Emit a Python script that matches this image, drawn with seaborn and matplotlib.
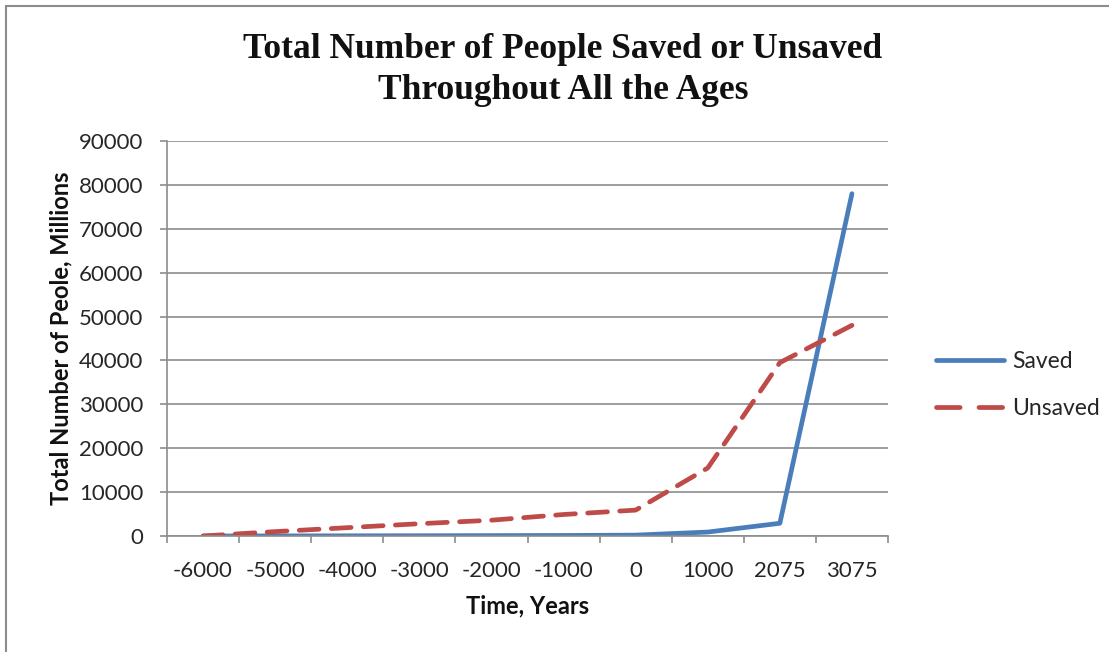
import matplotlib
matplotlib.use("Agg")
import matplotlib.pyplot as plt
from matplotlib.lines import Line2D
import numpy as np
import pandas as pd
import seaborn as sns

# Data (millions of people, cumulative)
years = ["-6000", "-5000", "-4000", "-3000", "-2000", "-1000", "0", "1000", "2075", "3075"]
saved = [0, 20, 40, 60, 90, 120, 200, 900, 2900, 78000]
unsaved = [0, 1000, 1900, 2800, 3600, 4900, 5900, 15500, 39500, 48000]

sns.set_theme(style="white")
plt.rcParams["font.family"] = ["Lato", "DejaVu Sans"]

pos = np.arange(len(years))
df = pd.DataFrame({
    "pos": np.concatenate([pos, pos]),
    "value": saved + unsaved,
    "series": ["Saved"] * len(years) + ["Unsaved"] * len(years),
})

fig = plt.figure(figsize=(11.09, 6.52), dpi=100)
ax = fig.add_axes([167 / 1109, 1 - 536 / 652, (888 - 167) / 1109, (536 - 141) / 652])

blue = "#4A7EBB"
red = "#BE4B48"
sns.lineplot(data=df, x="pos", y="value", hue="series", style="series",
             palette={"Saved": blue, "Unsaved": red},
             dashes={"Saved": "", "Unsaved": (4.2, 2.6)},
             linewidth=3.4, ax=ax, legend=False)
for ln in ax.get_lines():
    ln.set_solid_capstyle("round")
    ln.set_dash_capstyle("round")

ax.set_xlim(-0.5, len(years) - 0.5)
ax.set_ylim(0, 90000)
ax.set_yticks(np.arange(0, 90001, 10000))
ax.set_yticklabels([str(v) for v in range(0, 90001, 10000)])
ax.set_xticks(pos)
ax.set_xticklabels(years)
ax.set_xticks(np.arange(-0.5, len(years), 1.0), minor=True)

ax.grid(axis="y", color="#8C8C8C", linewidth=1.2)
ax.set_axisbelow(True)
for side in ["top", "right"]:
    ax.spines[side].set_visible(False)
for side in ["left", "bottom"]:
    ax.spines[side].set_color("#8C8C8C")
    ax.spines[side].set_linewidth(1.2)

ax.tick_params(axis="x", which="major", length=0, pad=18, labelsize=16, labelcolor="#262626")
ax.tick_params(axis="x", which="minor", length=5, width=1.2, color="#8C8C8C", direction="out", bottom=True)
ax.tick_params(axis="y", which="major", length=5, width=1.2, color="#8C8C8C", direction="out",
               left=True, pad=12, labelsize=16, labelcolor="#262626")

ax.set_xlabel("Time, Years", fontsize=17, fontweight="bold", color="#111111", labelpad=10)
ax.set_ylabel("Total Number of Peole, Millions", fontsize=17, fontweight="bold", color="#111111", labelpad=5)

fig.text(563 / 1109, 1 - 70 / 652,
         "Total Number of People Saved or Unsaved\nThroughout All the Ages",
         ha="center", va="center", fontsize=25.5, fontweight="bold",
         family="Liberation Serif", color="#111111", linespacing=1.3)

handles = [Line2D([], [], color=blue, linewidth=3.4, solid_capstyle="round"),
           Line2D([], [], color=red, linewidth=3.4, dashes=(5, 4), dash_capstyle="round")]
fig.legend(handles, ["Saved", "Unsaved"], loc="center left",
           bbox_to_anchor=(915 / 1109, 1 - 385 / 652), frameon=False,
           fontsize=16.5, labelcolor="#262626", handlelength=3.0, handletextpad=0.35,
           labelspacing=1.1)

# outer chart frame
fig.add_artist(Line2D([6 / 1109, 1.0], [1 - 6 / 652, 1 - 6 / 652], color="#8C8C8C", linewidth=1.5))
fig.add_artist(Line2D([6 / 1109, 6 / 1109], [0.0, 1 - 6 / 652], color="#8C8C8C", linewidth=1.5))

fig.savefig("out.png", dpi=100, facecolor="white")
